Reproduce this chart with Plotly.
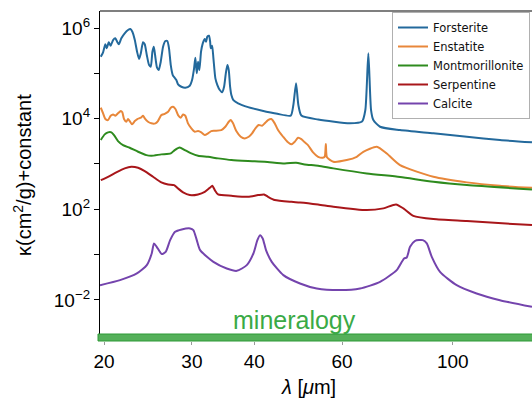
import plotly.graph_objects as go

# ---------------- data ----------------
forsterite_lam = [19.70, 19.91, 20.12, 20.25, 20.44, 20.62, 20.85, 21.07, 21.27, 21.41, 21.66, 22.00,
                  22.34, 22.58, 22.79, 23.05, 23.29, 23.51, 23.70, 23.94, 24.13, 24.36, 24.62, 24.81,
                  25.00, 25.16, 25.31, 25.54, 25.74, 25.98, 26.26, 26.54, 26.78, 26.99, 27.21, 27.46,
                  27.71, 27.92, 28.14, 28.57, 29.10, 29.70, 30.02, 30.30, 30.48, 30.68, 30.86, 31.05,
                  31.29, 31.54, 31.83, 32.02, 32.21, 32.46, 32.63, 32.73, 32.93, 33.13, 33.43, 33.74,
                  34.12, 34.48, 34.80, 35.08, 35.34, 35.56, 35.78, 35.99, 36.33, 37.12, 38.87, 41.32,
                  44.50, 47.33, 47.91, 48.51, 49.03, 49.71, 53.71, 62.23, 65.77, 66.79, 67.72, 68.57,
                  69.30, 71.48, 78.38, 91.42, 106.7, 124.3, 144.1]
forsterite_k = [2.32e5, 2.91e5, 4.37e5, 3.56e5, 4.83e5, 4.07e5, 5.43e5, 5.93e5, 4.83e5, 4.37e5, 5.93e5, 7.64e5,
                9.03e5, 9.50e5, 8.29e5, 5.43e5, 3.00e5, 2.07e5, 2.76e5, 4.83e5, 4.37e5, 2.54e5, 1.52e5, 1.40e5,
                3.00e5, 3.87e5, 2.54e5, 1.33e5, 1.18e5, 1.80e5, 3.87e5, 5.16e5, 5.16e5, 3.56e5, 1.52e5, 9.17e4,
                8.00e4, 7.11e4, 5.72e4, 5.06e4, 4.81e4, 5.33e4, 7.11e4, 1.29e5, 2.21e5, 1.00e5, 1.80e5, 1.18e5,
                3.00e5, 4.59e5, 5.72e5, 4.98e5, 6.43e5, 6.76e5, 4.98e5, 3.56e5, 4.07e5, 2.14e5, 7.76e4, 5.52e4,
                4.28e4, 3.81e4, 5.06e4, 1.00e5, 1.52e5, 1.18e5, 5.06e4, 3.32e4, 2.57e4, 2.18e4, 1.80e4, 1.52e4,
                1.28e4, 1.17e4, 2.00e4, 6.02e4, 2.00e4, 1.17e4, 9.55e3, 7.88e3, 8.63e3, 1.55e4, 2.76e5, 1.55e4,
                9.31e3, 6.63e3, 5.60e3, 4.74e3, 3.98e3, 3.37e3, 3.00e3]

enstatite_lam = [19.70, 19.91, 20.12, 20.37, 20.62, 20.85, 21.07, 21.33, 21.60, 21.76, 21.93, 22.16, 22.34,
                 22.51, 22.76, 23.05, 23.32, 23.70, 23.94, 24.13, 24.50, 24.88, 25.35, 25.65, 26.05, 26.46,
                 26.88, 27.21, 27.50, 27.80, 28.14, 28.50, 28.80, 29.10, 29.46, 29.92, 30.40, 30.86, 31.33,
                 31.83, 32.32, 32.81, 33.34, 34.36, 35.00, 35.56, 35.88, 36.27, 36.82, 37.58, 38.28, 39.00,
                 39.60, 40.21, 40.84, 41.46, 41.98, 42.62, 43.28, 43.96, 44.64, 45.69, 46.60, 47.48, 48.22,
                 48.96, 49.71, 50.48, 51.25, 52.47, 53.71, 54.87, 55.37, 55.66, 55.95, 57.62, 61.28, 64.18,
                 66.16, 70.41, 73.73, 78.38, 91.42, 106.7, 124.3, 144.1]
enstatite_k = [1.74e4, 1.31e4, 9.80e3, 9.31e3, 1.16e4, 1.24e4, 1.16e4, 1.31e4, 1.47e4, 1.38e4, 9.80e3, 8.54e3, 9.80e3,
               8.85e3, 7.49e3, 8.85e3, 9.80e3, 1.05e4, 1.16e4, 1.02e4, 8.54e3, 7.88e3, 7.88e3, 8.85e3, 1.20e4, 1.28e4,
               1.42e4, 1.74e4, 1.83e4, 1.63e4, 1.20e4, 1.05e4, 1.24e4, 1.16e4, 7.88e3, 6.11e3, 5.14e3, 5.32e3, 4.98e3,
               4.35e3, 4.74e3, 5.32e3, 5.41e3, 5.60e3, 6.63e3, 8.54e3, 9.31e3, 7.88e3, 5.32e3, 3.99e3, 3.67e3, 3.99e3,
               4.74e3, 6.11e3, 7.22e3, 6.97e3, 7.88e3, 9.31e3, 9.80e3, 7.88e3, 5.60e3, 3.99e3, 3.09e3, 2.71e3, 3.09e3,
               3.79e3, 3.54e3, 3.00e3, 2.61e3, 1.80e3, 1.44e3, 1.37e3, 1.45e3, 2.75e3, 1.40e3, 1.12e3, 1.22e3, 1.44e3,
               1.86e3, 2.40e3, 1.71e3, 946, 522, 393, 330, 298]

montmor_lam = [19.70, 20.06, 20.37, 20.69, 20.94, 21.33, 21.83, 22.51, 23.40, 24.31, 24.88, 26.05, 27.21,
               27.71, 28.35, 29.03, 29.92, 30.86, 32.32, 33.85, 35.99, 38.87, 41.98, 46.03, 48.51, 50.48,
               53.71, 57.62, 67.22, 78.38, 91.42, 106.7, 144.1]
montmor_k = [3.37e3, 4.50e3, 4.98e3, 4.98e3, 4.35e3, 3.20e3, 2.61e3, 2.28e3, 1.86e3, 1.57e3, 1.52e3, 1.63e3, 1.71e3,
             2.03e3, 2.32e3, 2.03e3, 1.71e3, 1.52e3, 1.44e3, 1.33e3, 1.22e3, 1.16e3, 1.12e3, 1.03e3, 1.06e3, 980,
             913, 800, 620, 514, 405, 342, 275]

serpentine_lam = [19.70, 20.37, 21.16, 22.00, 22.68, 23.40, 24.13, 25.07, 26.05, 26.88, 27.63, 28.14, 28.80,
                  29.70, 30.86, 31.83, 32.58, 32.97, 33.34, 33.85, 35.99, 38.87, 40.70, 41.85, 42.62, 43.96,
                  47.48, 49.40, 53.71, 57.62, 67.22, 72.59, 76.94, 79.59, 83.35, 91.42, 106.7, 144.1]
serpentine_k = [441, 522, 653, 800, 868, 824, 697, 522, 393, 354, 342, 289, 236,
                206, 213, 243, 298, 330, 265, 213, 199, 189, 206, 213, 189, 160,
                146, 142, 128, 114, 96, 105, 128, 105, 71.9, 60.8, 54.9, 44.8]

calcite_lam = [19.63, 21.53, 23.27, 24.36, 24.92, 25.18, 25.50, 26.10, 26.58, 27.13, 27.76, 28.62, 29.75,
               30.20, 30.68, 31.16, 33.13, 35.23, 36.90, 38.64, 39.84, 40.58, 41.08, 41.59, 42.23, 43.36,
               45.75, 49.40, 53.37, 59.39, 65.17, 71.48, 77.19, 79.85, 80.85, 82.09, 84.02, 87.07, 88.69,
               90.75, 94.27, 101.8, 111.6, 124.3, 144.1]
calcite_k = [2.12, 2.74, 3.85, 5.87, 10.6, 17.7, 14.9, 10.3, 11.5, 20.9, 31.9, 36.0, 37.9,
             34.7, 20.9, 12.6, 6.94, 4.96, 4.39, 5.87, 10.6, 20.9, 26.9, 22.8, 12.6, 6.94,
             3.53, 2.31, 1.79, 1.65, 1.79, 2.51, 4.55, 8.24, 8.67, 14.9, 20.2, 20.9, 17.7,
             8.94, 4.17, 2.12, 1.39, 0.99, 0.705]

series_names = ["Forsterite", "Enstatite", "Montmorillonite", "Serpentine", "Calcite"]
series_colors = ["#23699c", "#e8873a", "#2e8b1e", "#a8161a", "#7444ad"]

x_tick_vals = [20, 30, 40, 60, 100]
y_tick_vals = [1e6, 1e5, 1e4, 1e3, 1e2, 1e1, 1e0]
y_tick_text = ["10<sup>6</sup>", "", "10<sup>4</sup>", "", "10<sup>2</sup>", "", "10<sup>\u22122</sup>"]

# ---------------- figure ----------------
W, H = 532, 405
L, R, T, B = 100, 0, 11, 64
PW, PH = W - L - R, H - T - B

fig = go.Figure()
all_series = [(forsterite_lam, forsterite_k), (enstatite_lam, enstatite_k), (montmor_lam, montmor_k),
              (serpentine_lam, serpentine_k), (calcite_lam, calcite_k)]
for (lam, k), name, col in zip(all_series, series_names, series_colors):
    fig.add_trace(go.Scatter(x=lam, y=k, mode="lines", name=name,
                             line=dict(color=col, width=2, shape="spline", smoothing=0.6)))

font_main = "Liberation Sans, Arial, sans-serif"
fig.update_layout(
    width=W, height=H, margin=dict(l=L, r=R, t=T, b=B),
    paper_bgcolor="white", plot_bgcolor="white",
    font=dict(family=font_main, color="black"),
    showlegend=True,
    legend=dict(x=(392 - L) / PW, y=1 - (12 - T) / PH,
                xanchor="left", yanchor="top",
                bgcolor="white", bordercolor="#b0b0b0", borderwidth=1,
                font=dict(family="DejaVu Sans, sans-serif", size=11.5, color="#111"),
                itemwidth=30, tracegroupgap=0),
    xaxis=dict(type="log", range=[1.2929, 2.1587], tickvals=x_tick_vals,
               ticktext=[str(v) for v in x_tick_vals], showgrid=False, zeroline=False,
               showline=False, ticks="outside", ticklen=3, tickcolor="#999",
               tickfont=dict(size=19, family=font_main)),
    yaxis=dict(type="log", range=[-0.905, 6.375], tickvals=y_tick_vals, ticktext=y_tick_text,
               showgrid=False, zeroline=False, showline=True, linecolor="black", linewidth=1.2,
               ticks="outside", ticklen=5, tickcolor="black", tickwidth=1,
               tickfont=dict(size=19, family=font_main)),
)

# top frame line
fig.add_shape(type="line", xref="paper", yref="paper", x0=0, x1=1, y0=1, y1=1,
              line=dict(color="black", width=1.2))
# green band at bottom
fig.add_shape(type="rect", xref="paper", yref="paper", x0=-2 / PW, x1=1.01,
              y0=0, y1=7 / PH, fillcolor="#55b05a", line=dict(color="#2f9a36", width=1),
              layer="above")

fig.add_annotation(text="mineralogy", xref="paper", yref="paper",
                   x=(294 - L) / PW, y=(H - B - 320) / PH,
                   showarrow=False, font=dict(size=25, color="#3aaa46", family=font_main),
                   xanchor="center", yanchor="middle")
fig.add_annotation(text="\u03ba(cm<sup>2</sup>/g)+constant", xref="paper", yref="paper",
                   x=(22 - L) / PW, y=(H - B - 175) / PH,
                   textangle=-90, showarrow=False, font=dict(size=20, family=font_main),
                   xanchor="center", yanchor="middle")
fig.add_annotation(text="<i>\u03bb</i> [<i>\u03bc</i>m]", xref="paper", yref="paper",
                   x=(308 - L) / PW, y=(H - B - 387) / PH,
                   showarrow=False, font=dict(size=20, family=font_main),
                   xanchor="center", yanchor="middle")

fig.write_html("out.html")
